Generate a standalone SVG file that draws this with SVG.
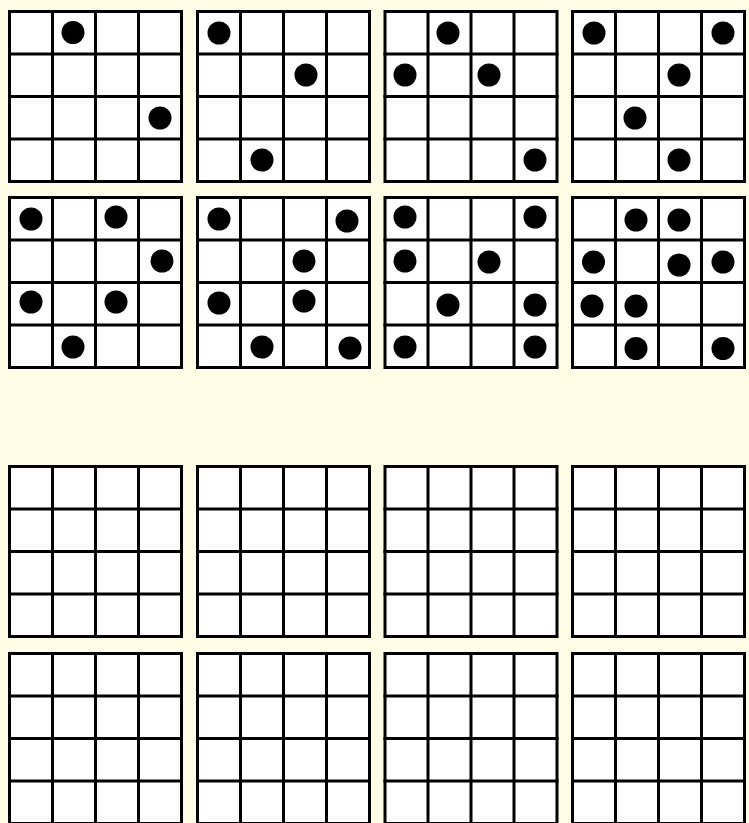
<svg xmlns="http://www.w3.org/2000/svg" xmlns:xlink="http://www.w3.org/1999/xlink" width="749" height="823" viewBox="0 0 749 823">
<style>
.cell{fill:#ffffff;stroke:#000000;stroke-width:3}
.ln{stroke:#000000;stroke-width:3;fill:none}
.dot{fill:#000000}
</style>
<defs>
<g id="board">
<rect class="cell" x="1.5" y="1.5" width="172" height="170"/>
<path class="ln" d="M44.5,0V173M87.5,0V173M130.5,0V173M0,44H175M0,86.5H175M0,129H175"/>
</g>
</defs>
<rect x="0" y="0" width="749" height="823" fill="#fffde6"/>
<g id="connectors"/>
<g id="grid-1-1"><use xlink:href="#board" href="#board" x="8" y="10"/>
<circle class="dot" cx="73" cy="32.5" r="11.5"/><circle class="dot" cx="160" cy="118" r="11.5"/></g>
<g id="grid-1-2"><use xlink:href="#board" href="#board" x="196" y="10"/>
<circle class="dot" cx="219" cy="33" r="11.5"/><circle class="dot" cx="306" cy="75" r="11.5"/><circle class="dot" cx="262" cy="160" r="11.5"/></g>
<g id="grid-1-3"><use xlink:href="#board" href="#board" x="383.5" y="10"/>
<circle class="dot" cx="448" cy="33" r="11.5"/><circle class="dot" cx="405" cy="75" r="11.5"/><circle class="dot" cx="489" cy="75" r="11.5"/><circle class="dot" cx="535" cy="160" r="11.5"/></g>
<g id="grid-1-4"><use xlink:href="#board" href="#board" x="571" y="10"/>
<circle class="dot" cx="594" cy="33" r="11.5"/><circle class="dot" cx="723" cy="33" r="11.5"/><circle class="dot" cx="679" cy="75" r="11.5"/><circle class="dot" cx="635" cy="118" r="11.5"/><circle class="dot" cx="679" cy="160" r="11.5"/></g>
<g id="grid-2-1"><use xlink:href="#board" href="#board" x="8" y="196"/>
<circle class="dot" cx="31" cy="219" r="11.5"/><circle class="dot" cx="116" cy="217" r="11.5"/><circle class="dot" cx="162" cy="261" r="11.5"/><circle class="dot" cx="31" cy="302" r="11.5"/><circle class="dot" cx="116" cy="302" r="11.5"/><circle class="dot" cx="73" cy="347" r="11.5"/></g>
<g id="grid-2-2"><use xlink:href="#board" href="#board" x="196" y="196"/>
<circle class="dot" cx="219" cy="219" r="11.5"/><circle class="dot" cx="347" cy="221" r="11.5"/><circle class="dot" cx="304" cy="261" r="11.5"/><circle class="dot" cx="219" cy="303" r="11.5"/><circle class="dot" cx="304" cy="301" r="11.5"/><circle class="dot" cx="262" cy="347" r="11.5"/><circle class="dot" cx="350" cy="348" r="11.5"/></g>
<g id="grid-2-3"><use xlink:href="#board" href="#board" x="383.5" y="196"/>
<circle class="dot" cx="405" cy="217" r="11.5"/><circle class="dot" cx="535" cy="217" r="11.5"/><circle class="dot" cx="405" cy="261" r="11.5"/><circle class="dot" cx="489" cy="262" r="11.5"/><circle class="dot" cx="448" cy="305" r="11.5"/><circle class="dot" cx="535" cy="305" r="11.5"/><circle class="dot" cx="405" cy="347" r="11.5"/><circle class="dot" cx="535" cy="347" r="11.5"/></g>
<g id="grid-2-4"><use xlink:href="#board" href="#board" x="571" y="196"/>
<circle class="dot" cx="636" cy="220" r="11.5"/><circle class="dot" cx="679" cy="220" r="11.5"/><circle class="dot" cx="593.5" cy="262" r="11.5"/><circle class="dot" cx="679" cy="265" r="11.5"/><circle class="dot" cx="723" cy="262" r="11.5"/><circle class="dot" cx="592" cy="306" r="11.5"/><circle class="dot" cx="636" cy="306" r="11.5"/><circle class="dot" cx="636" cy="348.5" r="11.5"/><circle class="dot" cx="723" cy="348.5" r="11.5"/></g>
<g id="grid-3-1"><use xlink:href="#board" href="#board" x="8" y="465"/></g>
<g id="grid-3-2"><use xlink:href="#board" href="#board" x="196" y="465"/></g>
<g id="grid-3-3"><use xlink:href="#board" href="#board" x="383.5" y="465"/></g>
<g id="grid-3-4"><use xlink:href="#board" href="#board" x="571" y="465"/></g>
<g id="grid-4-1"><use xlink:href="#board" href="#board" x="8" y="652"/></g>
<g id="grid-4-2"><use xlink:href="#board" href="#board" x="196" y="652"/></g>
<g id="grid-4-3"><use xlink:href="#board" href="#board" x="383.5" y="652"/></g>
<g id="grid-4-4"><use xlink:href="#board" href="#board" x="571" y="652"/></g>
</svg>
